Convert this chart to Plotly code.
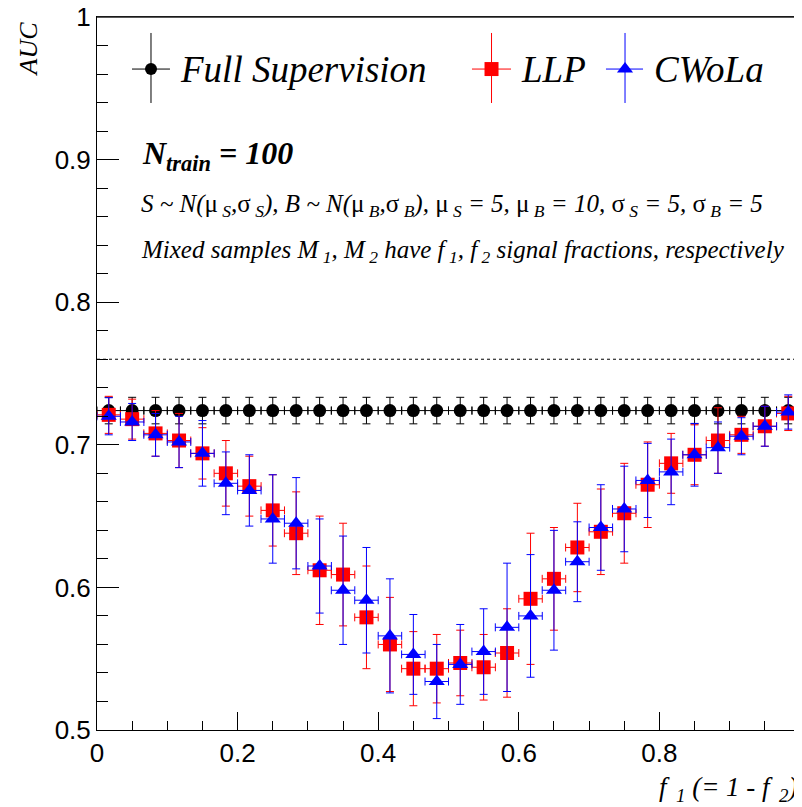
import plotly.graph_objects as go

# ---------------- data ----------------
f1 = [0.0167, 0.05, 0.0833, 0.1167, 0.15, 0.1833, 0.2167, 0.25, 0.2833, 0.3167,
      0.35, 0.3833, 0.4167, 0.45, 0.4833, 0.5167, 0.55, 0.5833, 0.6167, 0.65,
      0.6833, 0.7167, 0.75, 0.7833, 0.8167, 0.85, 0.8833, 0.9167, 0.95, 0.9833]
f1_err = [0.0167] * 30

fs_auc = [0.724, 0.724, 0.724, 0.724, 0.724, 0.724, 0.724, 0.724, 0.724, 0.724,
          0.724, 0.724, 0.724, 0.724, 0.724, 0.724, 0.724, 0.724, 0.724, 0.724,
          0.724, 0.724, 0.724, 0.724, 0.724, 0.724, 0.724, 0.724, 0.724, 0.724]
fs_err = [0.0093, 0.0093, 0.0093, 0.0093, 0.0093, 0.0093, 0.0093, 0.0093, 0.0093, 0.0093,
          0.0093, 0.0093, 0.0093, 0.0093, 0.0093, 0.0093, 0.0093, 0.0093, 0.0093, 0.0093,
          0.0093, 0.0093, 0.0093, 0.0093, 0.0093, 0.0093, 0.0093, 0.0093, 0.0093, 0.0093]

llp_auc = [0.721, 0.718, 0.708, 0.703, 0.694, 0.680, 0.671, 0.654, 0.638, 0.612,
           0.609, 0.579, 0.560, 0.543, 0.543, 0.547, 0.544, 0.554, 0.592, 0.606,
           0.628, 0.639, 0.652, 0.672, 0.687, 0.693, 0.703, 0.707, 0.713, 0.722]
llp_err = [0.013, 0.014, 0.016, 0.019, 0.018, 0.023, 0.021, 0.025, 0.029, 0.038,
           0.036, 0.036, 0.033, 0.026, 0.024, 0.023, 0.023, 0.031, 0.046, 0.036,
           0.031, 0.030, 0.035, 0.030, 0.021, 0.021, 0.023, 0.013, 0.014, 0.012]

cwola_auc = [0.720, 0.716, 0.707, 0.702, 0.694, 0.673, 0.668, 0.648, 0.645, 0.615,
             0.598, 0.591, 0.566, 0.553, 0.534, 0.546, 0.555, 0.572, 0.580, 0.598,
             0.618, 0.642, 0.655, 0.675, 0.681, 0.693, 0.698, 0.706, 0.713, 0.723]
cwola_err = [0.013, 0.013, 0.015, 0.018, 0.023, 0.022, 0.025, 0.031, 0.032, 0.033,
             0.038, 0.037, 0.040, 0.028, 0.026, 0.028, 0.030, 0.045, 0.043, 0.042,
             0.028, 0.030, 0.030, 0.026, 0.023, 0.022, 0.018, 0.013, 0.014, 0.012]

optimal_auc = 0.760
x_range = [0, 1]
y_range = [0.5, 1]

x_ticks = [0, 0.2, 0.4, 0.6, 0.8, 1]
x_tick_labels = ["0", "0.2", "0.4", "0.6", "0.8", "1"]
y_ticks = [0.5, 0.6, 0.7, 0.8, 0.9, 1]
y_tick_labels = ["0.5", "0.6", "0.7", "0.8", "0.9", "1"]

series_names = ["Full Supervision", "LLP", "CWoLa"]
series_colors = ["black", "red", "blue"]
series_symbols = ["circle", "square", "triangle-up"]

SERIF = "Liberation Serif, Times New Roman, serif"
SANS = "Liberation Sans, Arial, Helvetica, sans-serif"

fig = go.Figure()

# dotted optimal line
fig.add_trace(go.Scatter(x=x_range, y=[optimal_auc, optimal_auc], mode="lines",
                         line=dict(color="black", width=1, dash="dot"),
                         hoverinfo="skip", showlegend=False))

marker_sizes = [13, 14, 14]
for name, ys, es, col, sym, ms in zip(series_names,
                                      [fs_auc, llp_auc, cwola_auc],
                                      [fs_err, llp_err, cwola_err],
                                      series_colors, series_symbols, marker_sizes):
    fig.add_trace(go.Scatter(
        x=f1, y=ys, mode="markers", name=name,
        marker=dict(symbol=sym, size=ms, color=col, line=dict(width=0)),
        error_y=dict(type="data", array=es, visible=True, color=col,
                     thickness=1, width=4),
        error_x=dict(type="data", array=f1_err, visible=True, color=col,
                     thickness=1, width=4),
        showlegend=False))

# ---------------- manual legend (paper-like overlay axes) ----------------
leg_y = 0.927
leg_marker_x = [0.0768, 0.5612, 0.7511]
leg_hline = [(0.0498, 0.1038), (0.5334, 0.5889), (0.724, 0.7767)]
leg_vline = (0.8794, 0.9776)
leg_text_x = [0.1152, 0.6003, 0.7895]
leg_sizes = [12, 14, 14]

# frame: top and right edges (left/bottom are the axis lines)
shapes = [
    dict(type="line", xref="paper", yref="paper", x0=0, x1=1, y0=1, y1=1,
         line=dict(color="#222222", width=1.5), layer="above"),
    dict(type="line", xref="paper", yref="paper", x0=1, x1=1, y0=0, y1=1,
         line=dict(color="#222222", width=1.5), layer="above"),
]
for mx, (h0, h1), col in zip(leg_marker_x, leg_hline, series_colors):
    shapes.append(dict(type="line", xref="paper", yref="paper", x0=h0, x1=h1,
                       y0=leg_y, y1=leg_y, line=dict(color=col, width=1)))
    shapes.append(dict(type="line", xref="paper", yref="paper", x0=mx, x1=mx,
                       y0=leg_vline[0], y1=leg_vline[1], line=dict(color=col, width=1)))

for mx, col, sym, ms in zip(leg_marker_x, series_colors, series_symbols, leg_sizes):
    fig.add_trace(go.Scatter(x=[mx], y=[leg_y], mode="markers", xaxis="x2", yaxis="y2",
                             marker=dict(symbol=sym, size=ms, color=col),
                             hoverinfo="skip", showlegend=False))

annotations = []
for tx, name in zip(leg_text_x, series_names):
    annotations.append(dict(x=tx, y=leg_y, xref="paper", yref="paper",
                            xanchor="left", yanchor="middle", showarrow=False,
                            text="<i>%s</i>" % name,
                            font=dict(family=SERIF, size=37, color="black")))

up = '<span style="font-style:normal">%s</span>'
mu = up % "μ"
sg = up % "σ"
line2 = ("<i>S ~ N(%s<sub> S</sub>,%s<sub> S</sub>), B ~ N(%s<sub> B</sub>,%s<sub> B</sub>), "
         "%s<sub> S</sub> = 5, %s<sub> B</sub> = 10, %s<sub> S</sub> = 5, %s<sub> B</sub> = 5</i>"
         % (mu, sg, mu, sg, mu, mu, sg, sg))
line3 = ("<i>Mixed samples M<sub> 1</sub>, M<sub> 2</sub> have f<sub> 1</sub>, "
         "f<sub> 2</sub> signal fractions, respectively</i>")

annotations += [
    dict(x=0.0612, y=(730 - 155) / 713, xref="paper", yref="paper", xanchor="left",
         yanchor="middle", showarrow=False,
         text="<b><i>N<sub>train</sub> = 100</i></b>",
         font=dict(family=SERIF, size=32, color="black")),
    dict(x=0.0597, y=(730 - 205) / 713, xref="paper", yref="paper", xanchor="left",
         yanchor="middle", showarrow=False, text=line2,
         font=dict(family=SERIF, size=25, color="black")),
    dict(x=0.0597, y=(730 - 251) / 713, xref="paper", yref="paper", xanchor="left",
         yanchor="middle", showarrow=False, text=line3,
         font=dict(family=SERIF, size=25, color="black")),
    # axis titles
    dict(x=(28 - 97) / 703, y=(730 - 20) / 713, xref="paper", yref="paper",
         xanchor="center", yanchor="top", textangle=-90, showarrow=False,
         text="<i>AUC</i>", font=dict(family=SERIF, size=26, color="black")),
    dict(x=1.0, y=(730 - 789) / 713, xref="paper", yref="paper",
         xanchor="right", yanchor="middle", showarrow=False,
         text="<i>f<sub>  1</sub> (= 1 - f<sub>  2</sub>)</i>",
         font=dict(family=SERIF, size=27, color="black")),
]

# the page body adds an 8px offset; size the figure so it fills the window exactly
fig.update_layout(
    width=794, height=799,
    margin=dict(l=89, r=2, t=9, b=77, autoexpand=False),
    paper_bgcolor="white", plot_bgcolor="white",
    showlegend=False,
    shapes=shapes, annotations=annotations,
    xaxis=dict(range=x_range, tickvals=x_ticks, ticktext=x_tick_labels,
               ticks="inside", ticklen=18, tickwidth=1, tickcolor="black",
               minor=dict(dtick=0.05, ticklen=9, ticks="inside", tickcolor="black", tickwidth=1),
               showline=True, linecolor="black", linewidth=1, mirror=True,
               showgrid=False, zeroline=False, automargin=False,
               ticklabeloverflow="allow",
               tickfont=dict(family=SANS, size=26, color="black")),
    yaxis=dict(range=y_range, tickvals=y_ticks, ticktext=y_tick_labels,
               ticks="inside", ticklen=22, tickwidth=1, tickcolor="black",
               minor=dict(dtick=0.02, ticklen=11, ticks="inside", tickcolor="black", tickwidth=1),
               showline=True, linecolor="black", linewidth=1, mirror=True,
               showgrid=False, zeroline=False, automargin=False,
               ticklabeloverflow="allow",
               tickfont=dict(family=SANS, size=26, color="black")),
    xaxis2=dict(overlaying="x", range=[0, 1], visible=False),
    yaxis2=dict(overlaying="y", range=[0, 1], visible=False),
)

fig.write_html("out.html")
